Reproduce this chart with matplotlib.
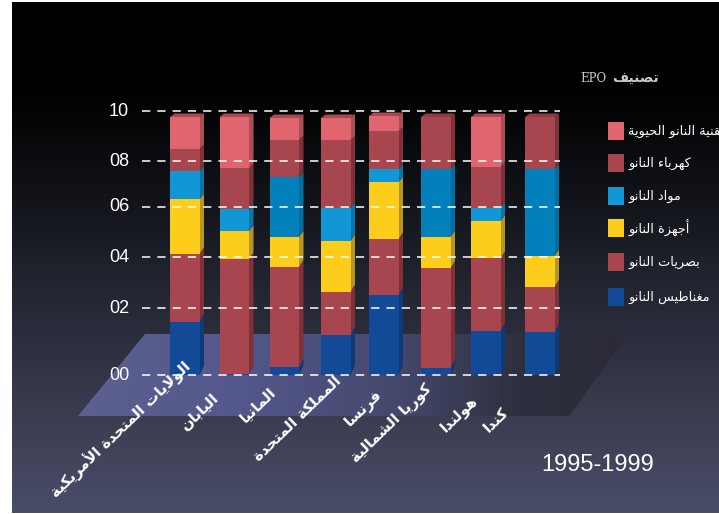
import numpy as np
import matplotlib
matplotlib.use("Agg")
import matplotlib.pyplot as plt
from matplotlib.colors import LinearSegmentedColormap
from matplotlib.patches import Polygon, Rectangle
from matplotlib.transforms import IdentityTransform

# stack order is bottom to top
categories = ["الولايات المتحدة الأمريكية", "اليابان", "المانيا", "المملكة المتحدة",
              "فرنسا", "كوريا الشمالية", "هولندا", "كندا"]
series_names = ["مغناطيس النانو", "بصريات النانو", "أجهزة النانو",
                "مواد النانو", "كهرباء النانو", "تقنية النانو الحيوية"]
magnetics = [1.59, 0.03, 0.24, 1.20, 2.52, 0.21, 1.32, 1.29]
optics = [2.53, 3.89, 3.37, 1.44, 2.20, 3.36, 2.64, 1.54]
devices = [2.22, 1.11, 1.19, 2.00, 2.37, 1.23, 1.47, 1.21]
materials = [1.23, 0.88, 2.51, 1.31, 0.57, 2.86, 0.52, 3.62]
electronics = [0.92, 1.79, 1.54, 2.90, 1.54, 2.10, 1.80, 2.10]
biotech = [1.27, 2.06, 0.87, 0.87, 0.60, 0.00, 2.01, 0.00]
y_ticks = [0, 2, 4, 6, 8, 10]
y_tick_labels = ["00", "02", "04", "06", "08", "10"]
period_label = "1995-1999"

W, H = 719, 514
series = [magnetics, optics, devices, materials, electronics, biotech]
colors = ["#134a97", "#a7464f", "#fdcd1c", "#1197d6", "#a7464f", "#e0656f"]
side_colors = ["#0f3a78", "#7e3238", "#b8952a", "#0c74a6", "#7e3238", "#a85058"]
top_colors = ["#0f3a78", "#8a3a40", "#b8952a", "#0c74a6", "#8f3d44", "#a84a52"]
dark_material = "#0180bc"     # bars whose materials band is a deeper blue
dark_material_bars = [2, 5, 7]

# the ticks are not evenly spaced up the axis
tick_pos = [0.0, 66.7, 118.0, 168.3, 213.7, 264.0]
forward = lambda v: np.interp(v, y_ticks, tick_pos)
inverse = lambda p: np.interp(p, tick_pos, y_ticks)

bar_lefts = [170, 219.5, 269.5, 321, 369, 421, 471, 525]
bar_width = 29.5


def px(x, y):
    # figure fraction from pixel coordinates with the origin at top left
    return x / W, 1 - y / H


def shape_arabic(text):
    # matplotlib has no Arabic shaping, so join letters by hand and reverse
    dual = {"ب": 0xFE8F, "ت": 0xFE95, "ج": 0xFE9D, "ح": 0xFEA1, "س": 0xFEB1, "ش": 0xFEB5,
            "ص": 0xFEB9, "ط": 0xFEC1, "غ": 0xFECD, "ف": 0xFED1, "ق": 0xFED5, "ك": 0xFED9,
            "ل": 0xFEDD, "م": 0xFEE1, "ن": 0xFEE5, "ه": 0xFEE9, "ي": 0xFEF1}
    right = {"أ": 0xFE83, "ا": 0xFE8D, "ة": 0xFE93, "د": 0xFEA9, "ر": 0xFEAD, "ز": 0xFEAF,
             "و": 0xFEED}
    out = []
    i = 0
    prev_joins = False
    while i < len(text):
        c = text[i]
        nxt = text[i + 1] if i + 1 < len(text) else ""
        if c == "ل" and nxt in ("ا", "أ"):
            code = 0xFEFB if nxt == "ا" else 0xFEF7
            out.append(chr(code + (1 if prev_joins else 0)))
            prev_joins = False
            i += 2
            continue
        if c in dual:
            joins_next = nxt in dual or nxt in right
            offset = {(False, False): 0, (True, False): 1,
                      (False, True): 2, (True, True): 3}[(prev_joins, joins_next)]
            out.append(chr(dual[c] + offset))
            prev_joins = joins_next
        elif c in right:
            out.append(chr(right[c] + (1 if prev_joins else 0)))
            prev_joins = False
        elif c == "ء":
            out.append(chr(0xFE80))
            prev_joins = False
        else:
            out.append(c)
            prev_joins = False
        i += 1
    return "".join(reversed(out))


fig = plt.figure(figsize=(W / 100, H / 100), dpi=100, facecolor="white")

# slide background
bg = fig.add_axes([12 / W, 1 / H, (W - 12) / W, 1 - 3 / H])
bg.set_axis_off()
bg_cmap = LinearSegmentedColormap.from_list(
    "slide", [(0, "#000000"), (0.17, "#000000"), (0.45, "#181a22"),
              (0.75, "#353749"), (1, "#4a4d68")])
bg.imshow(np.linspace(0, 1, 256)[:, None], aspect="auto", cmap=bg_cmap,
          extent=(0, 1, 0, 1))

# floor under the bars, fading from violet on the left to the background on the right
floor = fig.add_axes([0, 0, 1, 1], facecolor="none")
floor.set_axis_off()
floor.set_xlim(0, W)
floor.set_ylim(H, 0)
floor_cmap = LinearSegmentedColormap.from_list(
    "floor", [(0, "#5d618f"), (0.3, "#53578a"), (0.58, "#45486c"), (0.8, "#2e303f"), (1, "#2a2b36")])
floor_shape = Polygon([(145, 334), (628, 334), (569, 416), (78, 416)], closed=True,
                      fc="none", ec="none")
floor.add_patch(floor_shape)
floor_img = floor.imshow(np.linspace(0, 1, 256)[None, :], aspect="auto", cmap=floor_cmap,
                         extent=(78, 628, 416, 334))
floor_img.set_clip_path(floor_shape)
floor.set_xlim(0, W)
floor.set_ylim(H, 0)

# chart axes: x in pixels along the baseline, y through the uneven tick scale
ax = fig.add_axes([0, (H - 375) / H, 1, 264 / H], facecolor="none")
ax.set_yscale("function", functions=(forward, inverse))
ax.set_xlim(0, W)
ax.set_ylim(0, 10)
ax.set_axis_off()


def depth_rise(y_disp):
    # the receding faces tilt more steeply nearer the floor
    frac = (y_disp - (H - 375)) / 258
    return 9.5 - 6 * np.clip(frac, 0, 1)


totals = np.zeros(len(categories))
for s, values in enumerate(series):
    for b, val in enumerate(values):
        if val <= 0:
            continue
        face = colors[s]
        side = side_colors[s]
        if s == 3 and b in dark_material_bars:
            face = dark_material
            side = "#046f9f"
        left = bar_lefts[b]
        bottom = totals[b]
        ax.bar(left, val, bar_width, bottom=bottom, align="edge", color=face, zorder=3)
        # receding side of this band, 4.5 px deep, in display coordinates
        x1, y0 = ax.transData.transform((left + bar_width, bottom))
        _, y1 = ax.transData.transform((left + bar_width, bottom + val))
        ax.add_patch(Polygon([(x1, y0), (x1 + 4.5, y0 + depth_rise(y0)),
                              (x1 + 4.5, y1 + depth_rise(y1)), (x1, y1)],
                             closed=True, fc=side, ec="none", zorder=2,
                             transform=IdentityTransform()))
    totals += np.array(values)

# top caps take the colour of each bar's highest band
for b, left in enumerate(bar_lefts):
    x0, y1 = ax.transData.transform((left, totals[b]))
    top = 5 if biotech[b] > 0 else 4
    rise = depth_rise(y1)
    ax.add_patch(Polygon([(x0, y1), (x0 + bar_width, y1),
                          (x0 + bar_width + 4.5, y1 + rise), (x0 + 4.5, y1 + rise)],
                         closed=True, fc=top_colors[top], ec="none", zorder=2,
                         transform=IdentityTransform()))

# dashed gridlines run in front of the bars
for t, label in zip(y_ticks, y_tick_labels):
    ax.plot([142, 560], [t, t], color="white", lw=1.1, dashes=(5.4, 4.6), zorder=5,
            clip_on=False)
    ax.text(129, t, label, color="white", ha="right", va="center", fontsize=13,
            family="Liberation Sans", clip_on=False)

# category names hang from their top right end at 45 degrees
label_ends = [(182, 357), (211, 391), (268, 384), (333, 373), (374, 386), (424, 381),
              (470, 393), (501, 404)]
for name, (x, y) in zip(categories, label_ends):
    fx, fy = px(x, y)
    fig.text(fx, fy, shape_arabic(name), color="white", rotation=44, rotation_mode="anchor",
             ha="right", va="top", fontsize=10.8, fontweight="bold", family="DejaVu Sans")

# legend, top entry first
legend_y = [131, 163, 196, 228, 262, 297]
for y, name, c in zip(legend_y, reversed(series_names), reversed(colors)):
    fig.add_artist(Rectangle(px(608, y + 9), 16 / W, 18 / H, transform=fig.transFigure,
                             fc=c, ec="none"))
    fx, fy = px(628, y)
    fig.text(fx, fy, shape_arabic(name), color="white", ha="left", va="center",
             fontsize=9.3, family="DejaVu Sans")

fx, fy = px(580, 79)
fig.text(fx, fy, "EPO", color="#c9c9c9", ha="left", va="center", fontsize=8.5,
         family="DejaVu Serif")
fx, fy = px(659, 79)
fig.text(fx, fy, shape_arabic("تصنيف"), color="#c9c9c9", ha="right", va="center",
         fontsize=10, fontweight="bold", family="DejaVu Sans")

fx, fy = px(541, 465)
fig.text(fx, fy, period_label, color="white", ha="left", va="center", fontsize=17,
         family="Liberation Sans")

fig.savefig("out.png", dpi=100, facecolor="white")
